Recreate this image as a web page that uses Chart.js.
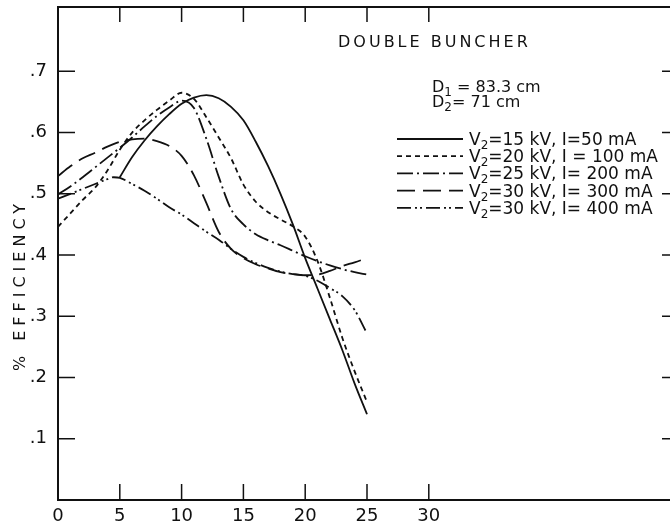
<!DOCTYPE html>
<html>
<head>
<meta charset="utf-8">
<script src="https://cdn.jsdelivr.net/npm/chart.js@4"></script>
<style>
  html, body { margin: 0; padding: 0; background: #fff; overflow: hidden; }
  #wrap { width: 690px; height: 526px; }
</style>
</head>
<body>
<div id="wrap"><canvas id="chart" width="690" height="526"></canvas></div>
<script>
// data (x = bunch parameter, y = efficiency)
const xFull = [0,1,2,3,4,5,6,7,8,9,10,11,12,13,14,15,16,17,18,19,20,21,22,23,24,25];

const x15 = [5,6,7,8,9,10,11,12,13,14,15,16,17,18,19,20,21,22,23,24,25];
const eff15 = [.527,.56,.587,.61,.63,.647,.657,.661,.656,.642,.62,.585,.545,.5,.45,.395,.345,.295,.245,.19,.14];

const eff20 = [.446,.468,.49,.51,.538,.572,.6,.62,.637,.652,.665,.655,.625,.592,.558,.515,.487,.47,.458,.447,.43,.39,.33,.265,.21,.16];

const eff25 = [.499,.512,.527,.543,.559,.575,.592,.61,.627,.641,.652,.64,.59,.528,.475,.45,.434,.424,.416,.407,.398,.39,.383,.377,.372,.368];

const eff300 = [.529,.545,.558,.567,.577,.585,.589,.59,.586,.578,.562,.53,.485,.438,.41,.395,.385,.378,.372,.369,.367,.368,.374,.382,.388,.395];

const x400 = [0,1,2,3,4,4.5,5,6,7,8,9,10,11,12,13,14,15,16,17,18,19,20,21,22,23,24,25];
const eff400 = [.492,.5,.508,.516,.524,.527,.526,.516,.505,.492,.478,.466,.452,.438,.425,.41,.397,.387,.379,.373,.369,.366,.358,.346,.333,.31,.272];

const xTicks = [5,10,15,20,25,30];
const yTicks = [.1,.2,.3,.4,.5,.6,.7];

const legendLabels = [
    ['V', '2', '=15 kV, I=50 mA'],
    ['V', '2', '=20 kV, I = 100 mA'],
    ['V', '2', '=25 kV, I= 200 mA'],
    ['V', '2', '=30 kV, I= 300 mA'],
    ['V', '2', '=30 kV, I= 400 mA']
];

const dashes = [[], [5,4], [16,4,2,4], [18,8], [14,4,2,3,2,4]];

const FONT = '"DejaVu Sans", sans-serif';

function pts(xs, ys) {
    return xs.map((x, i) => ({ x: x, y: ys[i] }));
}

function lineSet(data, dash) {
    return {
        data: data,
        borderColor: '#111',
        borderWidth: 1.8,
        borderDash: dash,
        pointRadius: 0,
        fill: false,
        cubicInterpolationMode: 'monotone'
    };
}

// text with a subscript piece
function subText(ctx, parts, x, y, size) {
    ctx.font = size + 'px ' + FONT;
    ctx.fillText(parts[0], x, y);
    x += ctx.measureText(parts[0]).width;
    ctx.font = Math.round(size * 0.72) + 'px ' + FONT;
    ctx.fillText(parts[1], x, y + 4);
    x += ctx.measureText(parts[1]).width;
    ctx.font = size + 'px ' + FONT;
    ctx.fillText(parts[2], x, y);
}

// no extra room for tick labels, keep the frame where the original has it
function noPad(s) {
    s.paddingTop = 0;
    s.paddingBottom = 0;
    s.paddingLeft = 0;
    s.paddingRight = 0;
}

const framePlugin = {
    id: 'frame',
    afterDraw(chart) {
        const ctx = chart.ctx;
        const a = chart.chartArea;
        const xs = chart.scales.x, ys = chart.scales.y;
        const rightX = xs.getPixelForValue(50);
        ctx.save();
        ctx.strokeStyle = '#111';
        ctx.fillStyle = '#111';

        // frame (right edge lies outside the picture)
        ctx.setLineDash([]);
        ctx.lineWidth = 2;
        ctx.beginPath();
        ctx.moveTo(rightX + 20, a.top);
        ctx.lineTo(a.left, a.top);
        ctx.lineTo(a.left, a.bottom);
        ctx.lineTo(rightX + 20, a.bottom);
        ctx.stroke();

        // inward ticks
        ctx.lineWidth = 1.5;
        ctx.beginPath();
        xTicks.forEach(v => {
            const px = xs.getPixelForValue(v);
            ctx.moveTo(px, a.bottom); ctx.lineTo(px, a.bottom - 16);
            ctx.moveTo(px, a.top); ctx.lineTo(px, a.top + 15);
        });
        yTicks.forEach(v => {
            const py = ys.getPixelForValue(v);
            ctx.moveTo(a.left, py); ctx.lineTo(a.left + 17, py);
            ctx.moveTo(rightX, py); ctx.lineTo(rightX - 14, py);
        });
        ctx.stroke();

        // axis title
        ctx.save();
        ctx.translate(21, 285);
        ctx.rotate(-Math.PI / 2);
        ctx.font = '16px ' + FONT;
        ctx.letterSpacing = '5px';
        ctx.textAlign = 'center';
        ctx.textBaseline = 'middle';
        ctx.fillText('% EFFICIENCY', 0, 0);
        ctx.restore();

        // annotation block
        ctx.textAlign = 'left';
        ctx.textBaseline = 'alphabetic';
        ctx.font = '16px ' + FONT;
        ctx.letterSpacing = '3px';
        ctx.fillText('DOUBLE BUNCHER', 338, 47);
        ctx.letterSpacing = '0px';
        subText(ctx, ['D', '1', ' = 83.3 cm'], 432, 92, 16);
        subText(ctx, ['D', '2', '= 71 cm'], 432, 107, 16);

        // legend
        legendLabels.forEach((lab, i) => {
            const cy = 139 + i * 17.2;
            ctx.lineWidth = 1.8;
            ctx.setLineDash(dashes[i]);
            ctx.beginPath();
            ctx.moveTo(397, cy);
            ctx.lineTo(463, cy);
            ctx.stroke();
            ctx.setLineDash([]);
            subText(ctx, lab, 469, cy + 6, 17);
        });
        ctx.restore();
    }
};

const ctx = document.getElementById('chart').getContext('2d');
new Chart(ctx, {
    type: 'line',
    data: {
        datasets: [
            lineSet(pts(x15, eff15), dashes[0]),
            lineSet(pts(xFull, eff20), dashes[1]),
            lineSet(pts(xFull, eff25), dashes[2]),
            lineSet(pts(xFull, eff300), dashes[3]),
            lineSet(pts(x400, eff400), dashes[4])
        ]
    },
    options: {
        responsive: false,
        animation: false,
        layout: { padding: { top: 7, right: 14, left: 0, bottom: 0 } },
        plugins: { legend: { display: false }, tooltip: { enabled: false } },
        scales: {
            x: {
                type: 'linear',
                min: 0,
                max: 50,
                grid: { display: false },
                border: { display: false },
                afterFit: s => { s.height = 26; noPad(s); },
                ticks: {
                    stepSize: 5,
                    autoSkip: false,
                    maxRotation: 0,
                    padding: -2,
                    color: '#111',
                    font: { family: FONT, size: 18 },
                    callback: v => (v <= 30 ? String(v) : null)
                }
            },
            y: {
                min: 0,
                max: 0.805,
                grid: { display: false },
                border: { display: false },
                afterFit: s => { s.width = 58; noPad(s); },
                ticks: {
                    stepSize: 0.1,
                    padding: 3,
                    color: '#111',
                    font: { family: FONT, size: 18 },
                    callback: v => {
                        const r = Math.round(v * 10);
                        return (r >= 1 && r <= 7) ? '.' + r : null;
                    }
                }
            }
        }
    },
    plugins: [framePlugin]
});
</script>
</body>
</html>
